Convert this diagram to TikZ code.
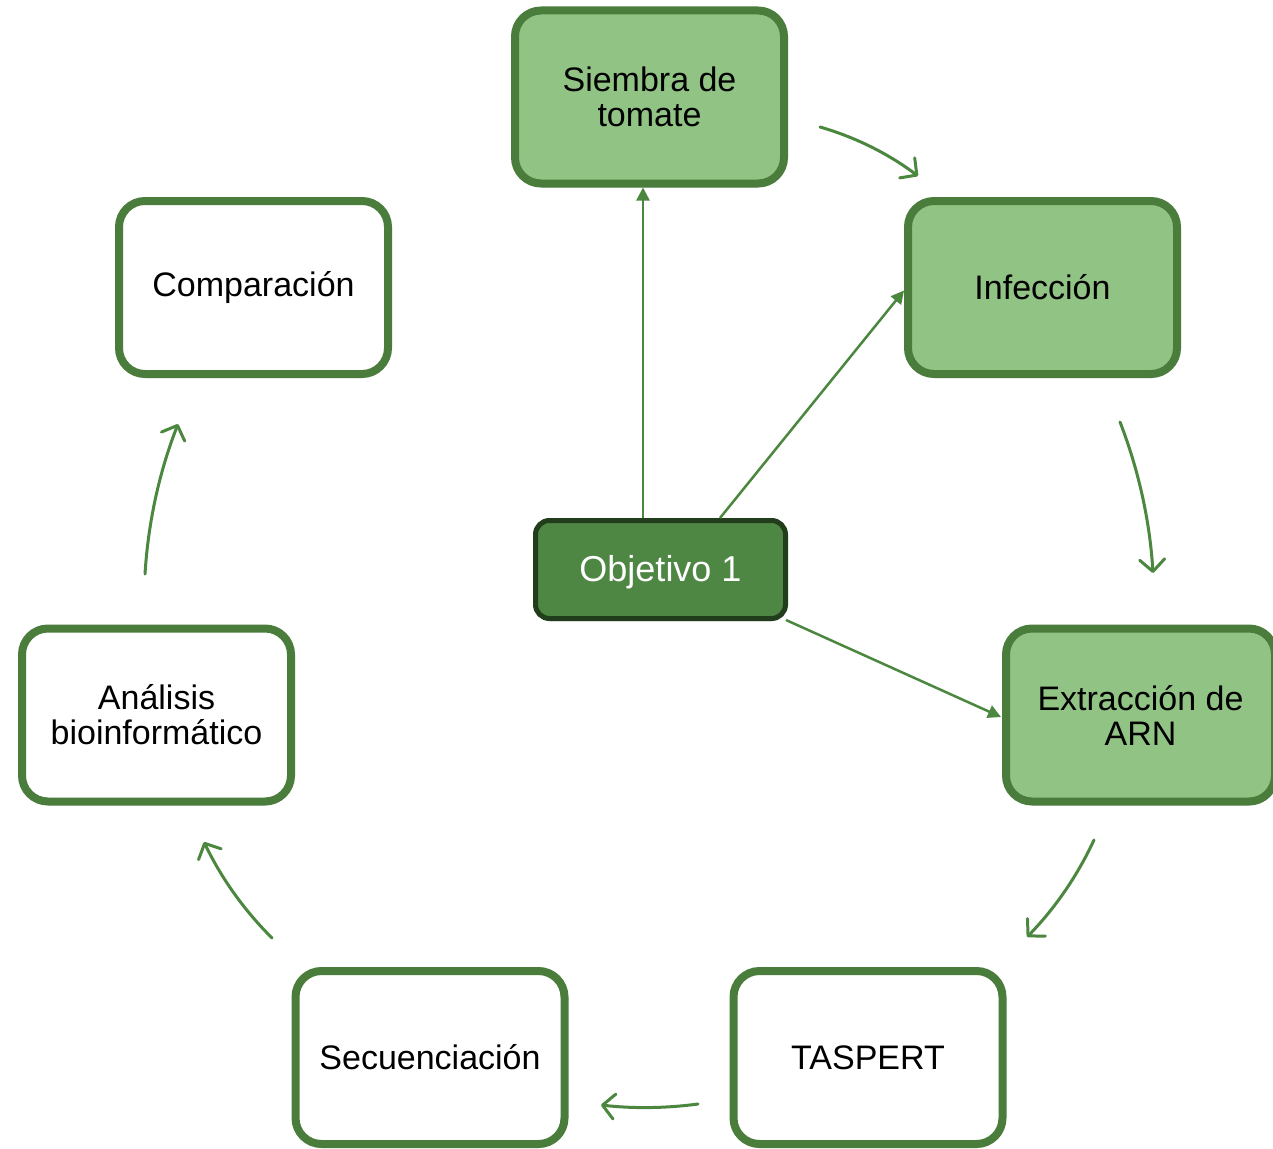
\documentclass[tikz,border=0pt]{standalone}
\usepackage{fontspec}
\setmainfont{Liberation Sans}
\usetikzlibrary{arrows.meta,shadows,calc}
\definecolor{bordergreen}{HTML}{4A7C3C}
\definecolor{lightgreen}{HTML}{91C384}
\definecolor{objfill}{HTML}{4E8743}
\definecolor{objborder}{HTML}{223D1C}
\definecolor{arrowgreen}{HTML}{4C873F}
\tikzset{
  stepbox/.style={draw=bordergreen, line width=8pt, rounded corners=26pt,
    minimum width=269pt, minimum height=173pt, align=center,
    font=\fontsize{34}{35}\selectfont, inner sep=0pt,
    drop shadow={shadow xshift=1pt, shadow yshift=-4pt, opacity=0.18}},
  greenbox/.style={stepbox, fill=lightgreen},
  whitebox/.style={stepbox, fill=white},
  objbox/.style={draw=objborder, fill=objfill, line width=5pt, rounded corners=14pt,
    minimum width=250pt, minimum height=98pt, text=white,
    font=\fontsize{36}{38}\selectfont, text height=23pt, text depth=0pt,
    drop shadow={shadow xshift=1pt, shadow yshift=-3pt, opacity=0.18}},
  link/.style={draw=arrowgreen, line width=2.5pt, -{Triangle[length=13pt,width=13pt]}},
  cycle/.style={draw=arrowgreen, line width=3pt, line cap=round,
    -{Straight Barb[length=12pt,width=25pt,line width=3pt,round]}}
}
\begin{document}
\begin{tikzpicture}[x=1pt,y=-1pt]
\useasboundingbox (0,0) rectangle (1273,1148);
\clip (0,0) rectangle (1273,1148);
\fill[white] (0,0) rectangle (1273,1148);

\node[greenbox] (siembra) at (649.5,97) {Siembra de\\tomate};
\node[greenbox] (infeccion) at (1042.5,287.5) {Infección};
\node[greenbox] (extraccion) at (1140.5,715) {Extracción de\\ARN};
\node[whitebox] (taspert) at (868,1057.5) {TASPERT};
\node[whitebox] (secuenciacion) at (430,1057.5) {Secuenciación};
\node[whitebox] (analisis) at (156.5,715) {Análisis\\bioinformático};
\node[whitebox] (comparacion) at (253.5,287.5) {Comparación};
\node[objbox] (obj) at (660.5,569.5) {Objetivo 1};

\draw[link] (obj.north -| 643,0) -- (siembra.south -| 643,0);
\draw[link] (obj.north -| 720,0) -- ($(infeccion.west)+(0,3)$);
\draw[link] ($(obj.south east)+(-2,-1)$) -- ($(extraccion.west)+(-1,2)$);

\coordinate (a1) at (820,127);  \coordinate (b1) at (918,176);
\coordinate (a2) at (1120,422); \coordinate (b2) at (1153,573);
\coordinate (a3) at (1094,840); \coordinate (b3) at (1027,937);
\coordinate (a4) at (698,1104); \coordinate (b4) at (601,1105);
\coordinate (a5) at (272,938);  \coordinate (b5) at (204,842);
\coordinate (a6) at (145,574);  \coordinate (b6) at (178,424);

\draw[cycle] (a1) .. controls (855.7,137.3) and (888.3,153.7) .. (b1);
\draw[cycle] (a2) .. controls (1138.8,470.6) and (1149.8,521) .. (b2);
\draw[cycle] (a3) .. controls (1077.2,876.1) and (1054.8,908.5) .. (b3);
\draw[cycle] (a4) .. controls (665.7,1108.3) and (633.3,1108.7) .. (b4);
\draw[cycle] (a5) .. controls (243.8,909.9) and (221.2,877.9) .. (b5);
\draw[cycle] (a6) .. controls (148.2,522.3) and (159.2,472.3) .. (b6);
\end{tikzpicture}
\end{document}
